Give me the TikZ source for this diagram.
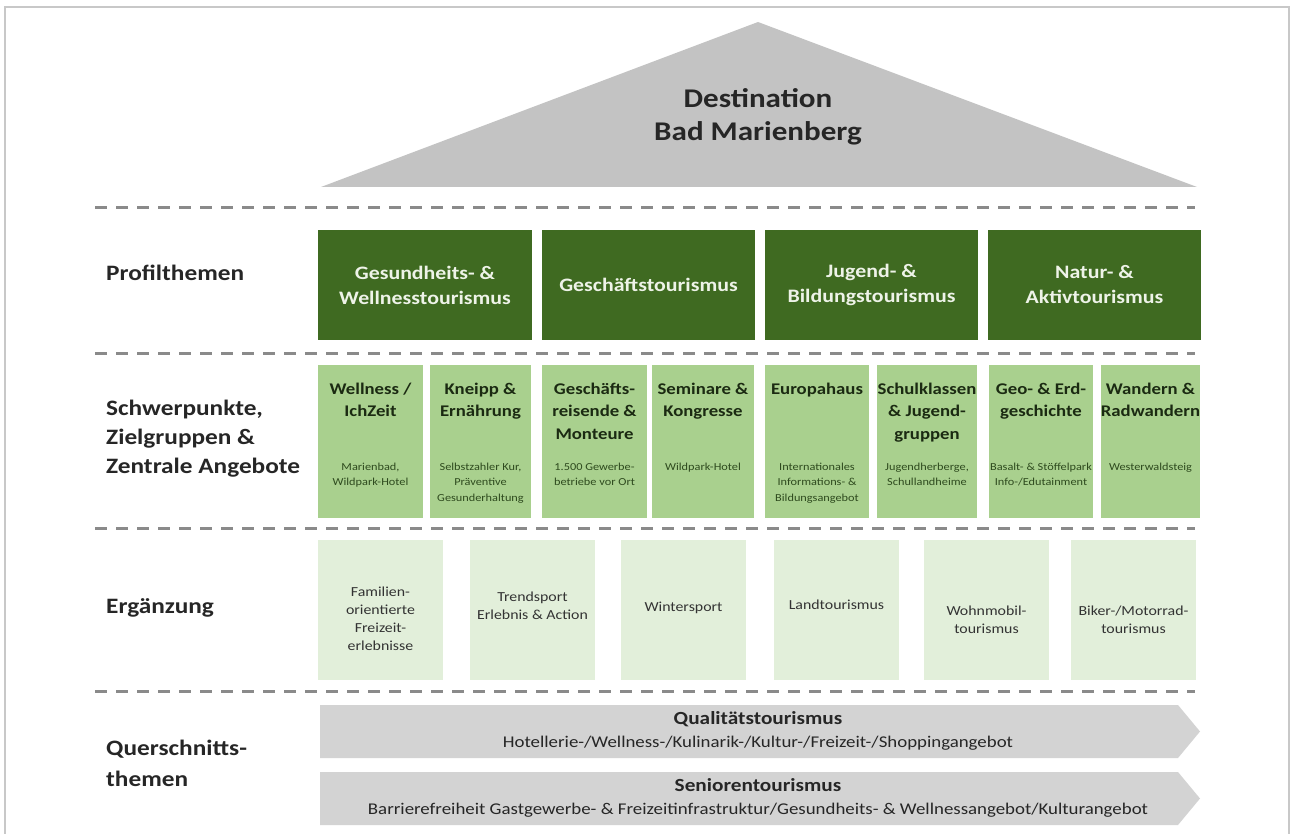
\documentclass[tikz,border=0pt]{standalone}
\usepackage{fontspec}
\setmainfont{Carlito}[FakeStretch=1.15]
\definecolor{darkgr}{HTML}{3F6A21}
\definecolor{midgr}{HTML}{A9D08E}
\definecolor{palegr}{HTML}{E2EFDA}
\definecolor{roofgray}{HTML}{C3C3C3}
\definecolor{arrgray}{HTML}{D3D3D3}
\definecolor{dashgray}{HTML}{8A8A8A}
\definecolor{framegray}{HTML}{C8C8C8}
\definecolor{lighttxt}{HTML}{EEF3E8}
\definecolor{titletxt}{HTML}{1B2A12}
\definecolor{subtxt}{HTML}{2E4A1E}
\definecolor{ergtxt}{HTML}{333333}
\begin{document}
\begin{tikzpicture}[x=1pt,y=-1pt,
  framel/.style={draw=framegray,line width=2pt},
  sepline/.style={draw=dashgray,line width=3pt,dash pattern=on 12pt off 9pt},
  rowlabel/.style={anchor=west,align=left,inner sep=0pt,text=black!85,font=\fontsize{22}{29}\selectfont\bfseries},
  profbox/.style={fill=darkgr,draw=none,minimum height=110pt,inner sep=0pt,align=center,text=lighttxt,font=\fontsize{19}{25}\selectfont\bfseries},
  focbox/.style={fill=midgr,draw=none,minimum height=153pt,inner sep=0pt},
  foctitle/.style={anchor=north,align=center,inner sep=0pt,text=titletxt,font=\fontsize{16.3}{22.5}\selectfont\bfseries},
  focsub/.style={anchor=north,align=center,inner sep=0pt,text=subtxt,font=\fontsize{10.7}{15.5}\selectfont},
  ergbox/.style={fill=palegr,draw=none,minimum width=125pt,minimum height=140pt,inner sep=0pt},
  ergtext/.style={align=center,inner sep=0pt,text=ergtxt,font=\fontsize{13.8}{18}\selectfont},
  arrtext/.style={align=center,inner sep=0pt,text=black!85,font=\fontsize{16.4}{23}\selectfont},
]
\useasboundingbox (0,0) rectangle (1290,834);
% frame
\draw[framel] (4.5,834) -- (4.5,7) -- (1288.5,7) -- (1288.5,834);
% roof
\fill[roofgray] (321,187) -- (758,22) -- (1197,187) -- cycle;
\node[align=center,inner sep=0pt,text=black!85,font=\fontsize{27}{33}\selectfont\bfseries] (dest) at (758,117) {Destination\\Bad Marienberg};
% separators
\draw[sepline] (95,208) -- (1195,208);
\draw[sepline] (95,353) -- (1195,353);
\draw[sepline] (95,528) -- (1195,528);
\draw[sepline] (95,691) -- (1195,691);
% row labels
\node[rowlabel] (lprof) at (106,273) {Profilthemen};
\node[rowlabel] (lfoc) at (106,439) {Schwerpunkte,\\Zielgruppen \&\\Zentrale Angebote};
\node[rowlabel] (lerg) at (106,608) {Ergänzung};
\node[rowlabel,font=\fontsize{22}{31}\selectfont\bfseries] (lquer) at (106,763) {Querschnitts-\\themen};
% profile themes
\node[profbox,minimum width=214pt] (p1) at (425,285) {Gesundheits- \&\\Wellnesstourismus};
\node[profbox,minimum width=213pt] (p2) at (648.5,285) {Geschäftstourismus};
\node[profbox,minimum width=213pt] (p3) at (871.5,285) {Jugend- \&\\Bildungstourismus};
\node[profbox,minimum width=213pt] (p4) at (1094.5,285) {Natur- \&\\Aktivtourismus};
% focus boxes
\node[focbox,minimum width=105pt] (s1) at (370.5,441.5) {};
\node[focbox,minimum width=101pt] (s2) at (480.5,441.5) {};
\node[focbox,minimum width=105pt] (s3) at (594.5,441.5) {};
\node[focbox,minimum width=102pt] (s4) at (703,441.5) {};
\node[focbox,minimum width=104pt] (s5) at (817,441.5) {};
\node[focbox,minimum width=100pt] (s6) at (927,441.5) {};
\node[focbox,minimum width=104pt] (s7) at (1041,441.5) {};
\node[focbox,minimum width=99pt] (s8) at (1150.5,441.5) {};
\foreach \n/\t in {s1/{Wellness /\\IchZeit}, s2/{Kneipp \&\\Ernährung}, s3/{Geschäfts-\\reisende \&\\Monteure}, s4/{Seminare \&\\Kongresse}, s5/{Europahaus}, s6/{Schulklassen\\\& Jugend-\\gruppen}, s7/{Geo- \& Erd-\\geschichte}, s8/{Wandern \&\\Radwandern}}
  \node[foctitle] (\n t) at ([yshift=-18pt]\n.north) {\t};
\foreach \n/\t in {s1/{Marienbad,\\Wildpark-Hotel}, s2/{Selbstzahler Kur,\\Präventive\\Gesunderhaltung}, s3/{1.500 Gewerbe-\\betriebe vor Ort}, s4/{Wildpark-Hotel}, s5/{Internationales\\Informations- \&\\Bildungsangebot}, s6/{Jugendherberge,\\Schullandheime}, s7/{Basalt- \& Stöffelpark\\Info-/Edutainment}, s8/{Westerwaldsteig}}
  \node[focsub] (\n s) at ([yshift=-98pt]\n.north) {\t};
% supplementary
\node[ergbox] (e1) at (380.5,610) {};
\node[ergbox] (e2) at (532.5,610) {};
\node[ergbox] (e3) at (683.5,610) {};
\node[ergbox] (e4) at (836.5,610) {};
\node[ergbox] (e5) at (986.5,610) {};
\node[ergbox] (e6) at (1133.5,610) {};
\node[ergtext] (e1t) at (380.5,619) {Familien-\\orientierte\\Freizeit-\\erlebnisse};
\node[ergtext] (e2t) at (532.5,606) {Trendsport\\Erlebnis \& Action};
\node[ergtext] (e3t) at (683.5,608) {Wintersport};
\node[ergtext] (e4t) at (836.5,605) {Landtourismus};
\node[ergtext] (e5t) at (986.5,620) {Wohnmobil-\\tourismus};
\node[ergtext] (e6t) at (1133.5,620) {Biker-/Motorrad-\\tourismus};
% cross-cutting arrows
\fill[arrgray] (320,705) -- (1178,705) -- (1200,731.5) -- (1178,758) -- (320,758) -- cycle;
\fill[arrgray] (320,772) -- (1178,772) -- (1200,798.5) -- (1178,825) -- (320,825) -- cycle;
\node[arrtext] (q1) at (758,731) {{\bfseries\fontsize{18.5}{23}\selectfont Qualitätstourismus}\\Hotellerie-/Wellness-/Kulinarik-/Kultur-/Freizeit-/Shoppingangebot};
\node[arrtext] (q2) at (758,798) {{\bfseries\fontsize{18.5}{23}\selectfont Seniorentourismus}\\Barrierefreiheit Gastgewerbe- \& Freizeitinfrastruktur/Gesundheits- \& Wellnessangebot/Kulturangebot};
\end{tikzpicture}
\end{document}
